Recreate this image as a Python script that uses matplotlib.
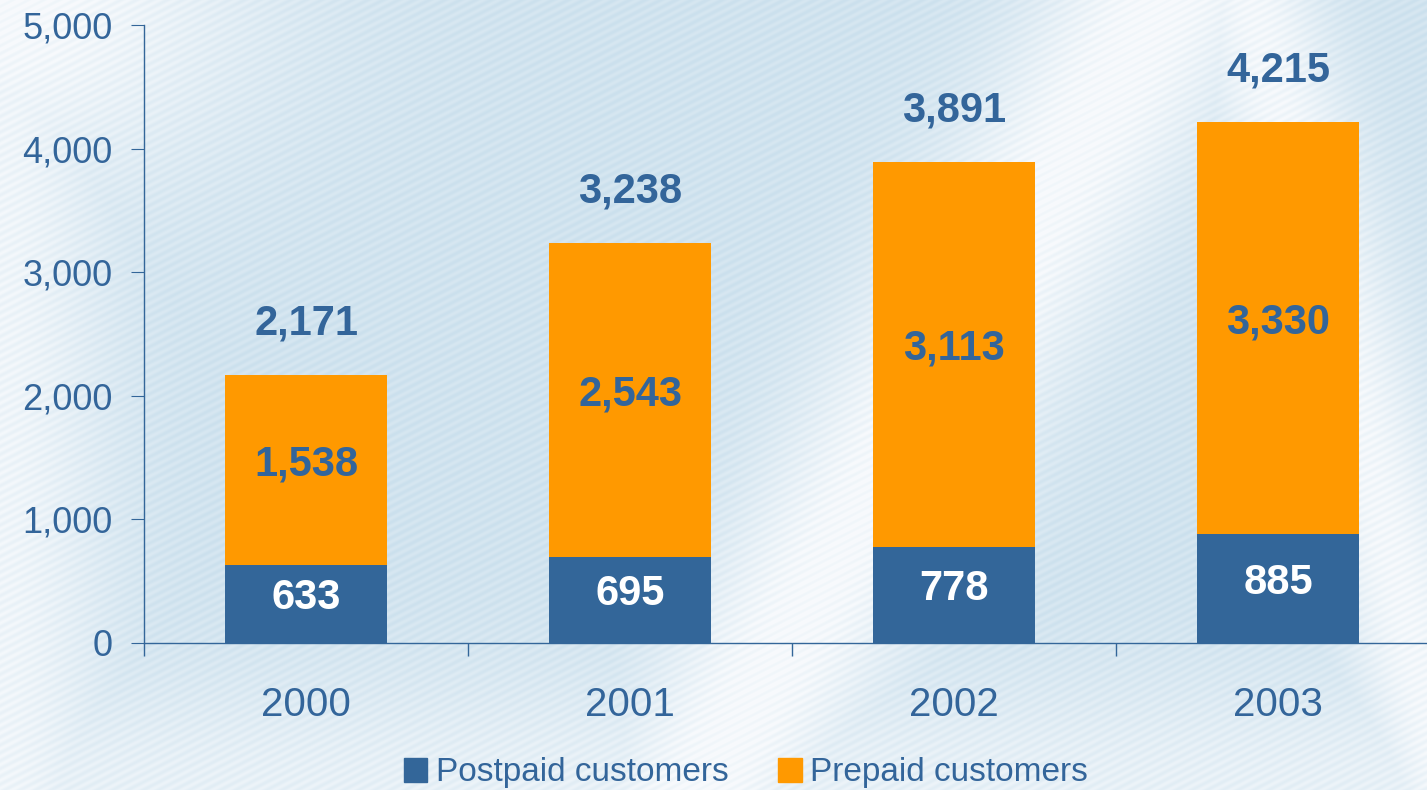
"""
Postpaid vs prepaid customers, stacked bars
"""

import numpy as np
import matplotlib.pyplot as plt
from matplotlib.patches import Patch

years = ['2000', '2001', '2002', '2003']
postpaid = [633, 695, 778, 885]
prepaid = [1538, 2543, 3113, 3330]
totals = [2171, 3238, 3891, 4215]

BLUE = '#336699'
ORANGE = '#ff9900'
TEXT = '#33659a'

plt.rcParams['font.family'] = ['Liberation Sans', 'DejaVu Sans']

W, H = 1427, 790
fig = plt.figure(figsize=(W / 100, H / 100), dpi=100)

# background: light blue wash with white swooshes and fine diagonal stripes
yy, xx = np.mgrid[0:H, 0:W].astype(float)


def band(x0, y0, x1, y1, width):
    dx, dy = x1 - x0, y1 - y0
    n = np.hypot(dx, dy)
    d = np.abs((xx - x0) * dy - (yy - y0) * dx) / n
    return np.exp(-(d / width) ** 2)


white = np.maximum.reduce([
    band(700, 790, 1160, 0, 110),
    band(1427, 700, 1250, 0, 70) * 0.9,
    np.exp(-((xx / 110) ** 2)) * 0.8,
    np.exp(-((xx / 260) ** 2 + (yy / 200) ** 2)),
    np.exp(-(((790 - yy) / 120) ** 2)) * 0.6,
])
ang = np.deg2rad(27)
stripes = 0.5 + 0.5 * np.sin(2 * np.pi * (xx * np.sin(ang) + yy * np.cos(ang)) / 7.0)
white = np.clip(white * 0.85 + stripes * 0.25, 0, 1)
base = np.array([203, 224, 237]) / 255.0
img = base[None, None, :] * (1 - white[..., None]) + white[..., None] * np.array([0.97, 0.98, 0.99])

bg = fig.add_axes([0, 0, 1, 1], zorder=-1)
bg.imshow(img, aspect='auto', interpolation='bilinear')
bg.axis('off')

ax = fig.add_axes([144 / W, 1 - 643 / H, 1296 / W, 618 / H])
ax.patch.set_alpha(0)

x = np.arange(len(years))
ax.bar(x, postpaid, width=0.5, color=BLUE, zorder=2)
ax.bar(x, prepaid, width=0.5, bottom=postpaid, color=ORANGE, zorder=2)

for i in range(len(years)):
    ax.text(x[i], postpaid[i] / 2 + 45, f'{postpaid[i]:,}', ha='center', va='center',
            color='white', fontsize=30, fontweight='bold')
    ax.text(x[i], postpaid[i] + prepaid[i] / 2 + 45, f'{prepaid[i]:,}', ha='center',
            va='center', color=TEXT, fontsize=30, fontweight='bold')
    ax.annotate(f'{totals[i]:,}', (x[i], totals[i]), xytext=(0, 37),
                textcoords='offset points', ha='center', va='center',
                color=TEXT, fontsize=30, fontweight='bold')

ax.set_xlim(-0.5, 3.5)
ax.set_ylim(0, 5000)
ax.set_yticks(range(0, 5001, 1000))
ax.set_yticklabels([f'{v:,}' for v in range(0, 5001, 1000)])
ax.set_xticks(x)
ax.set_xticklabels(years)
ax.set_xticks(np.arange(-0.5, 3.0, 1.0), minor=True)

for s in ['top', 'right']:
    ax.spines[s].set_visible(False)
for s in ['left', 'bottom']:
    ax.spines[s].set_color(BLUE)
    ax.spines[s].set_linewidth(1.0)

ax.tick_params(axis='y', colors=BLUE, labelcolor=TEXT, labelsize=26, length=9.5, pad=13)
ax.tick_params(axis='x', which='major', length=0, labelcolor=TEXT, labelsize=29, pad=31)
ax.tick_params(axis='x', which='minor', colors=BLUE, length=9, width=1)

handles = [Patch(color=BLUE, label='Postpaid customers'),
           Patch(color=ORANGE, label='Prepaid customers')]
fig.legend(handles=handles, loc='center', bbox_to_anchor=(746 / W, 1 - 773 / H),
           ncol=2, frameon=False, fontsize=24, labelcolor=TEXT,
           handlelength=0.7, handleheight=0.7, handletextpad=0.25,
           columnspacing=1.5, borderpad=0)

plt.savefig('out.png', dpi=100)
plt.close()
